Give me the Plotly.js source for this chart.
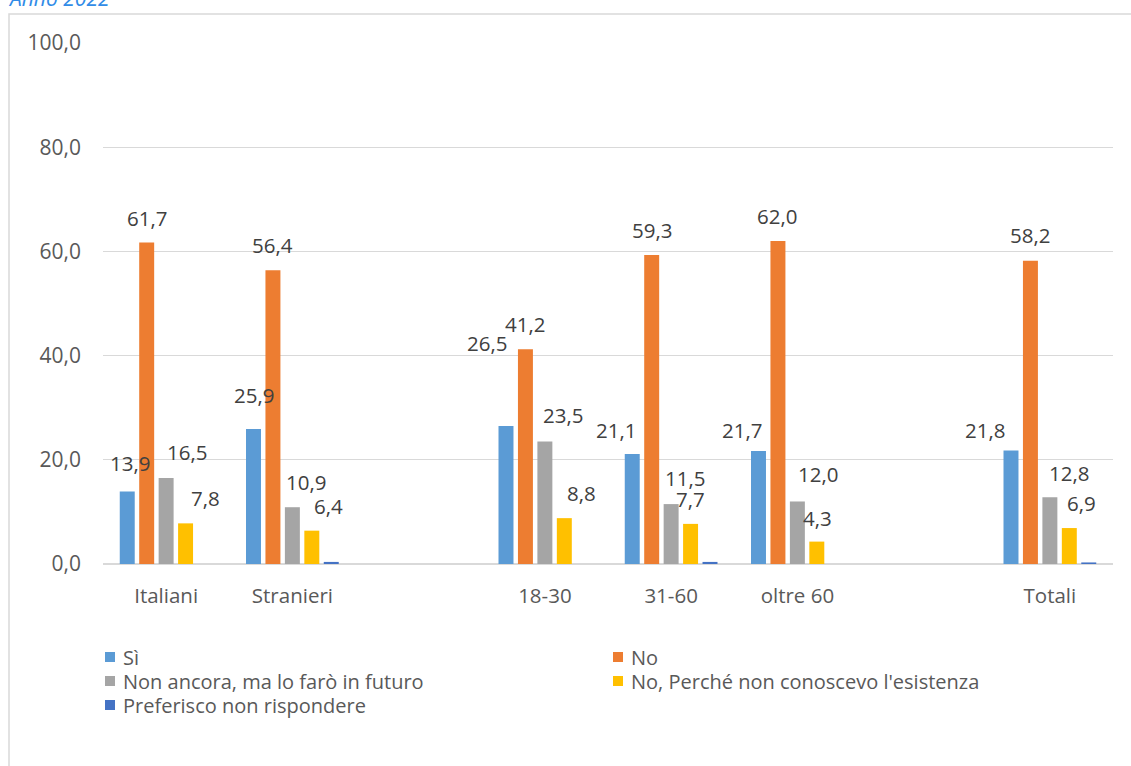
<!DOCTYPE html>
<html>
<head>
<meta charset="utf-8">
<script src="https://cdn.plot.ly/plotly-3.0.1.min.js"></script>
<style>html,body{margin:0;padding:0;background:#fff;}#chart{width:1131px;height:766px;}</style>
</head>
<body>
<div id="chart"></div>
<script>
// ---- data ----
const categories = ['Italiani', 'Stranieri', '18-30', '31-60', 'oltre 60', 'Totali'];
const slots = [0, 1, 3, 4, 5, 7]; // group slots (with empty spacer slots 2 and 6)
const seriesNames = ['Sì', 'No', 'Non ancora, ma lo farò in futuro', "No, Perché non conoscevo l'esistenza", 'Preferisco non rispondere'];
const si = [13.9, 25.9, 26.5, 21.1, 21.7, 21.8];
const no = [61.7, 56.4, 41.2, 59.3, 62.0, 58.2];
const nonAncora = [16.5, 10.9, 23.5, 11.5, 12.0, 12.8];
const noEsistenza = [7.8, 6.4, 8.8, 7.7, 4.3, 6.9];
const preferisco = [0, 0.4, 0, 0.4, 0, 0.3];
const yTicks = [0, 20, 40, 60, 80, 100];

// ---- styles ----
const colors = ['#5b9bd5', '#ed7d31', '#a5a5a5', '#ffc000', '#4472c4'];
const seriesValues = [si, no, nonAncora, noEsistenza, preferisco];
const showLabels = [true, true, true, true, false];
// label nudges (px) imitating the hand-placed labels of the original
const labelDx = [
  [2.5, 1, -19, -16, -16, -26],
  [0, 0, 0, 0, -1, 0],
  [20.5, 14, 18, 14, 21, 19],
  [19.5, 16.5, 17.5, 0, 1, 12]
];
const labelDy = [
  [29, 34, 83, 24, 21, 20],
  [25, 25, 25, 25, 25, 26],
  [26, 25, 27, 26, 27, 24],
  [25, 25, 25, 25, 24, 25]
];
// custom legend layout (pixels): column x of marker, row y centre
const legendCols = [105, 613];
const legendRows = [657, 681, 705];

const W = 1131, H = 766;
const M = {l: 103, r: 18, t: 43, b: 202};
const plotW = W - M.l - M.r, plotH = H - M.t - M.b;
const nSlots = 8, bargap = 0.23;
const slotPx = plotW / nSlots * (1 - bargap) / seriesNames.length;
const FONT = 'Open Sans, Noto Sans, sans-serif';
const px2x = p => (p - M.l) / plotW;
const px2y = p => (plotH - (p - M.t)) / plotH;

const traces = seriesNames.map((name, i) => ({
  type: 'bar',
  name: name,
  x: slots,
  y: seriesValues[i],
  marker: {color: colors[i], line: {width: 0}},
  hoverinfo: 'name+y'
}));

const annotations = [];
seriesValues.forEach((vals, i) => {
  if (!showLabels[i]) return;
  vals.forEach((v, j) => {
    annotations.push({
      x: slots[j], y: v, xref: 'x', yref: 'y',
      text: v.toFixed(1).replace('.', ','),
      showarrow: false,
      xanchor: 'center', yanchor: 'middle',
      xshift: (i - 2) * slotPx + labelDx[i][j],
      yshift: labelDy[i][j],
      font: {family: FONT, size: 20.5, color: '#404040'}
    });
  });
});
// partially clipped sub-title at top-left
annotations.push({
  xref: 'paper', yref: 'paper',
  x: px2x(6), y: px2y(-2),
  xanchor: 'left', yanchor: 'middle',
  text: '<i>Anno 2022</i>', showarrow: false,
  font: {family: FONT, size: 21, color: '#318ce7'}
});

const shapes = [{
  type: 'rect', xref: 'paper', yref: 'paper',
  x0: px2x(9), x1: px2x(W + 20),
  y0: px2y(H + 20), y1: px2y(14),
  line: {color: '#d9d9d9', width: 1.5}, fillcolor: 'rgba(0,0,0,0)', layer: 'below'
}];

// custom legend: two columns, filled row by row
seriesNames.forEach((name, i) => {
  const cx = legendCols[i % 2], cy = legendRows[Math.floor(i / 2)];
  shapes.push({
    type: 'rect', xref: 'paper', yref: 'paper',
    x0: px2x(cx), x1: px2x(cx + 10), y0: px2y(cy + 5), y1: px2y(cy - 5),
    line: {width: 0}, fillcolor: colors[i]
  });
  annotations.push({
    xref: 'paper', yref: 'paper', x: px2x(cx + 16), y: px2y(cy),
    xanchor: 'left', yanchor: 'middle', showarrow: false,
    text: name, font: {family: FONT, size: 20, color: '#595959'}
  });
});

const layout = {
  width: W, height: H,
  margin: M,
  paper_bgcolor: '#ffffff', plot_bgcolor: '#ffffff',
  separators: ',.',
  barmode: 'group',
  bargap: bargap,
  bargroupgap: 0.23,
  showlegend: false,
  font: {family: FONT, size: 20.5, color: '#595959'},
  xaxis: {
    range: [-0.5, 7.5],
    tickvals: slots, ticktext: categories,
    showgrid: false, zeroline: false,
    showline: false, ticks: '',
    ticklabelstandoff: 17,
    tickfont: {family: FONT, size: 20.5, color: '#595959'},
    fixedrange: true
  },
  yaxis: {
    range: [0, 100],
    tickvals: yTicks,
    tickformat: '.1f',
    showgrid: true, gridcolor: '#d9d9d9', gridwidth: 1.3,
    zeroline: true, zerolinecolor: '#d9d9d9', zerolinewidth: 1.5,
    showline: false, ticks: '',
    ticklabelstandoff: 21,
    tickfont: {family: FONT, size: 21, color: '#595959'},
    fixedrange: true
  },
  annotations: annotations,
  shapes: shapes
};

Plotly.newPlot('chart', traces, layout, {displayModeBar: false, staticPlot: true});
</script>
</body>
</html>
